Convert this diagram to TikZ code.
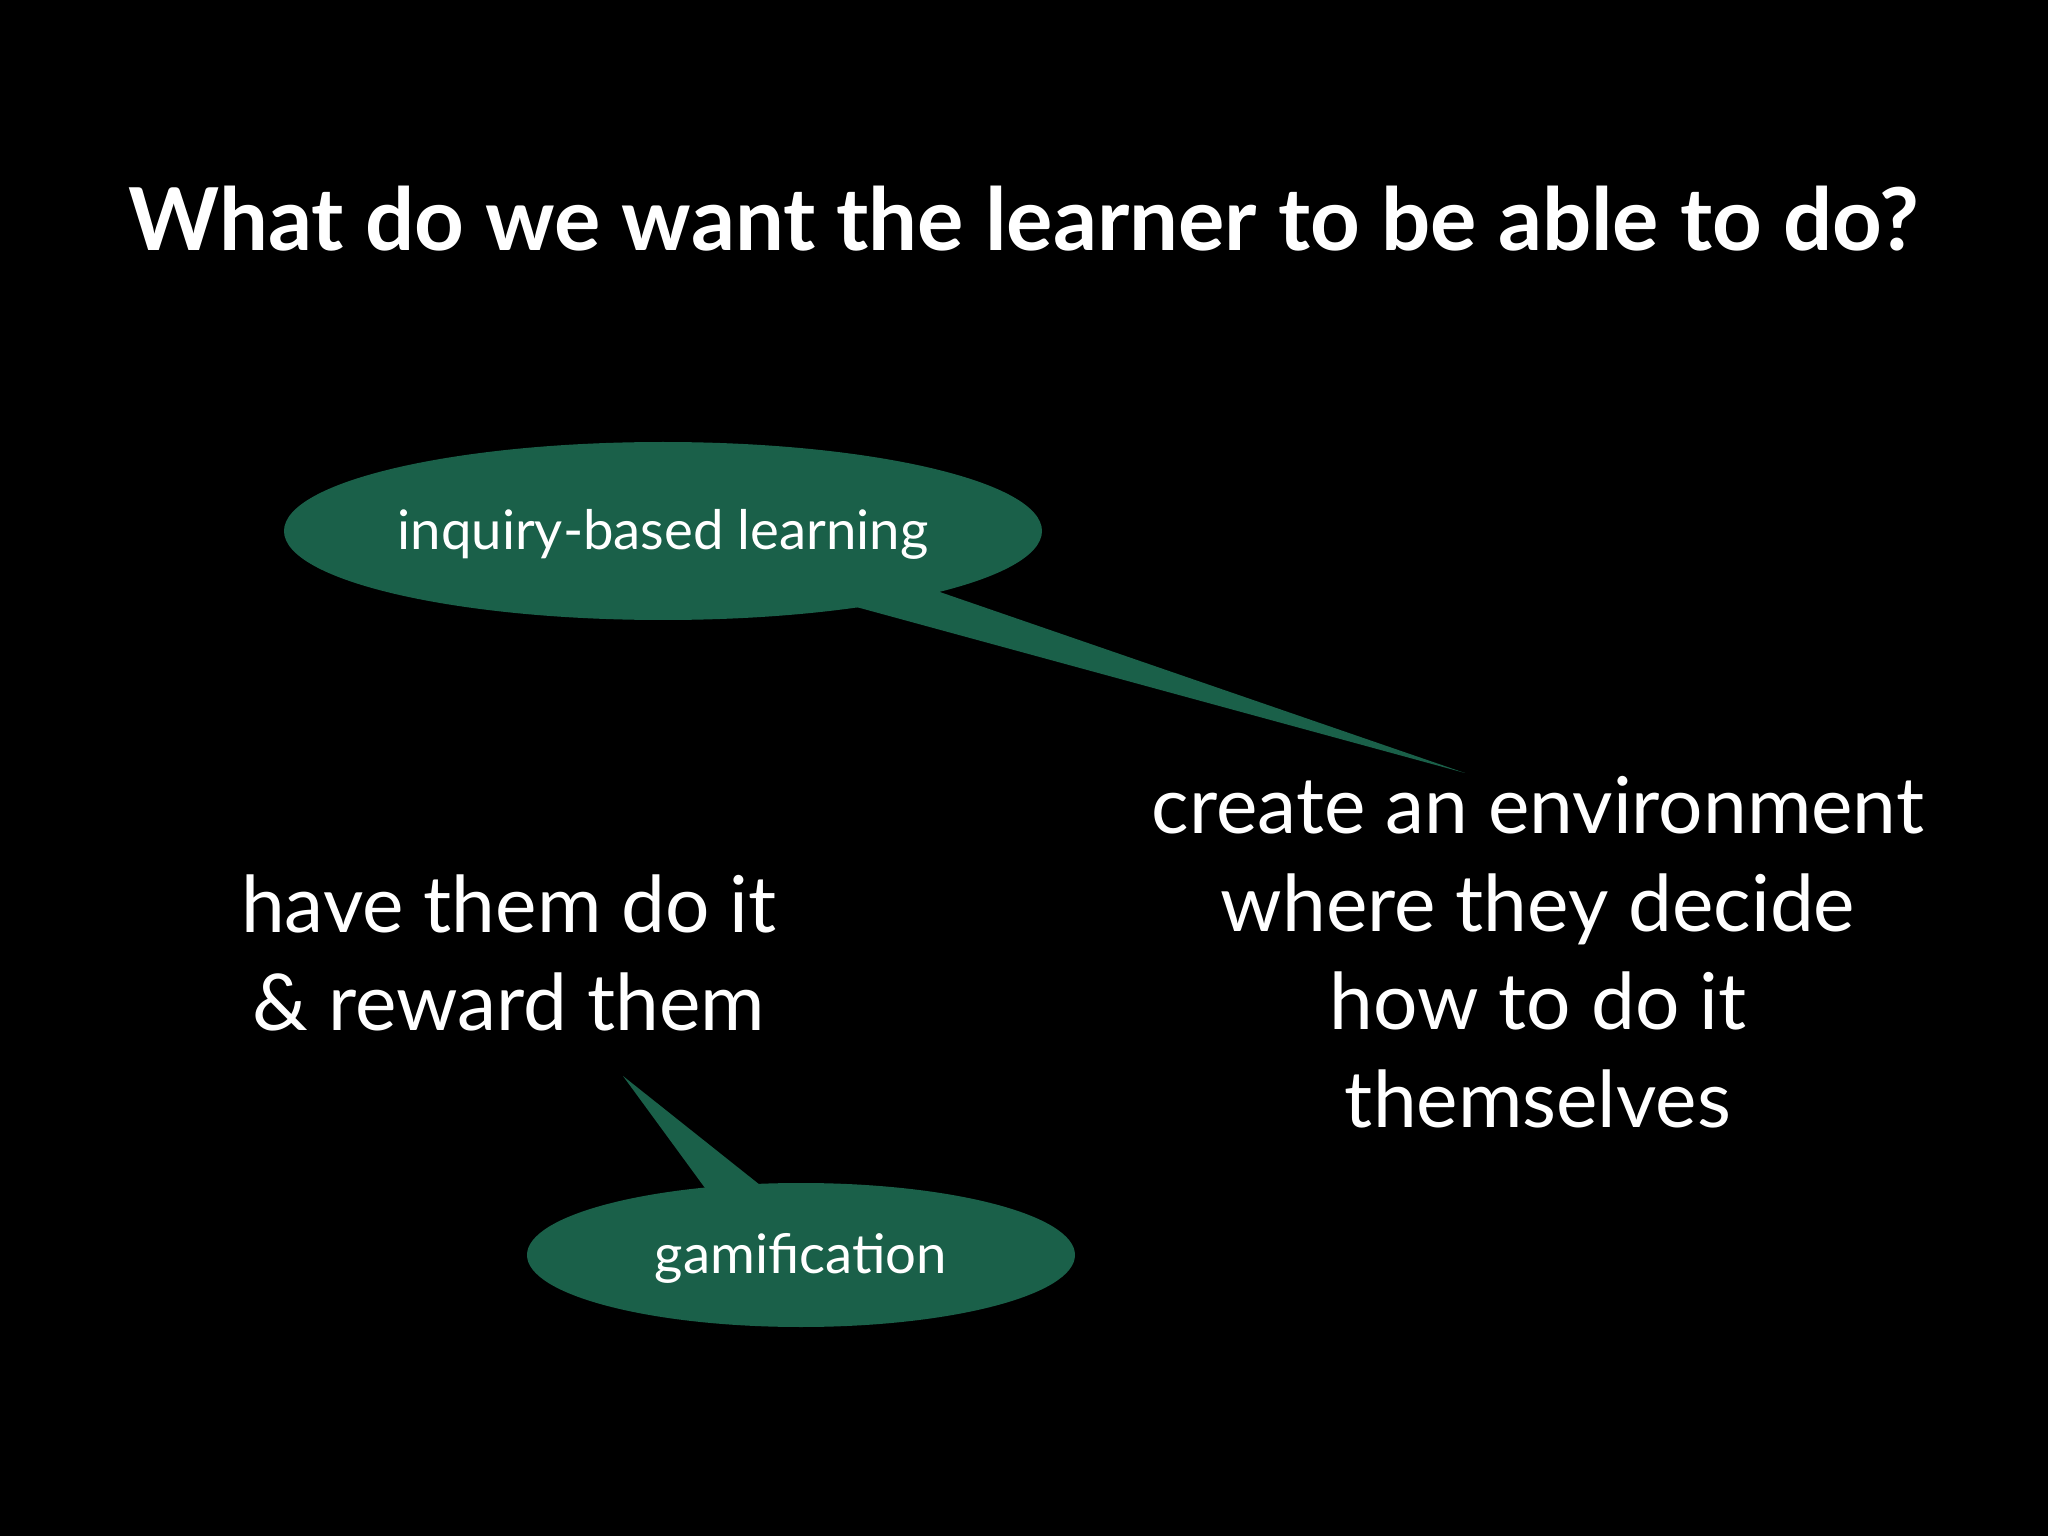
\documentclass[tikz,border=0pt]{standalone}
\usepackage{fontspec}
\usepackage{graphicx}
\setmainfont{Lato}
\usetikzlibrary{shapes.geometric}
\definecolor{bubble}{HTML}{1A6049}
\tikzset{
  bub/.style={fill=bubble,draw=none},
  body/.style={text=white,align=center,font=\fontsize{22.3}{27.9}\selectfont},
  lab/.style={text=white,font=\fontsize{15.5}{18}\selectfont}
}
\begin{document}
\begin{tikzpicture}
\fill[black] (0,0) rectangle (20.48,-15.36);
\useasboundingbox (0,0) rectangle (20.48,-15.36);
\node[text=white,font=\bfseries\fontsize{35}{40}\selectfont] (title) at (10.24,-2.19) {\resizebox{17.9cm}{!}{What do we want the learner to be able to do?}};
% bubble 1
\fill[bub] (6.63,-5.31) ellipse (3.79 and 0.89);
\coordinate (t1) at (14.65,-7.73);
\fill[bub] (8.49,-6.05) -- (9.34,-5.90) -- (t1) -- cycle;
\node[lab] (b1) at (6.63,-5.34) {inquiry-based learning};
% bubble 2
\fill[bub] (8.01,-12.55) ellipse (2.74 and 0.72);
\coordinate (t2) at (6.23,-10.76);
\fill[bub] (7.05,-11.88) -- (7.60,-11.85) -- (t2) -- cycle;
\node[lab] (b2) at (8.01,-12.58) {gamification};
% texts
\node[body,anchor=north] (left) at (5.09,-8.62) {have them do it\\\& reward them};
\node[body,anchor=north] (right) at (15.38,-7.64) {create an environment\\where they decide\\how to do it\\themselves};
\end{tikzpicture}
\end{document}
